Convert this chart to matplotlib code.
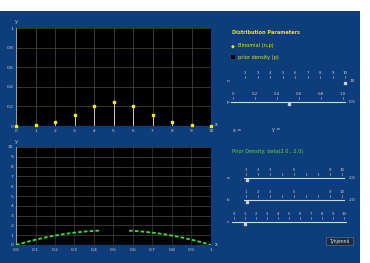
import numpy as np
import matplotlib
matplotlib.use("Agg")
import matplotlib.pyplot as plt
from matplotlib.patches import Rectangle

# ---------------- data ----------------
k_values = [0, 1, 2, 3, 4, 5, 6, 7, 8, 9, 10]
binom_probs = [0.001, 0.010, 0.044, 0.117, 0.205, 0.246, 0.205, 0.117, 0.044, 0.010, 0.001]
top_xticks = [0, 1, 2, 3, 4, 5, 6, 7, 8, 9, 10]
top_yticks = [0, 0.2, 0.4, 0.6, 0.8, 1.0]
top_ylabels = ["0", "0.2", "0.4", "0.6", "0.8", "1"]

p_values = [0.0, 0.05, 0.10, 0.15, 0.20, 0.25, 0.30, 0.35, 0.40, 0.43, 0.45, 0.55,
            0.58, 0.60, 0.65, 0.70, 0.75, 0.80, 0.85, 0.90, 0.95, 1.0]
prior_density = [0.0, 0.29, 0.54, 0.77, 0.96, 1.13, 1.26, 1.37, 1.44, 1.47, np.nan, np.nan,
                 1.46, 1.44, 1.37, 1.26, 1.13, 0.96, 0.77, 0.54, 0.29, 0.0]
bot_xticks = [0.0, 0.1, 0.2, 0.3, 0.4, 0.5, 0.6, 0.7, 0.8, 0.9, 1.0]
bot_xlabels = ["0.0", "0.1", "0.2", "0.3", "0.4", "0.5", "0.6", "0.7", "0.8", "0.9", "1"]
bot_yticks = [0, 1, 2, 3, 4, 5, 6, 7, 8, 9, 10]

n_slider_labels = ["2", "3", "4", "5", "6", "7", "8", "9", "10"]
p_slider_labels = ["0", "0.2", "0.4", "0.6", "0.8", "1.0"]
a_slider_labels = ["1", "2", "3", "", "5", "", "", "9", "10"]
c_slider_labels = ["0", "1", "2", "3", "4", "5", "6", "7", "8", "9", "10"]

# ---------------- figure ----------------
W, H = 370, 263
fig = plt.figure(figsize=(W / 100, H / 100), dpi=100)
fig.patch.set_facecolor("white")

def fx(x):
    return x / W

def fy(y):
    return 1 - y / H

def axrect(x0, y0, x1, y1):
    return [fx(x0), fy(y1), fx(x1) - fx(x0), fy(y0) - fy(y1)]

BLUE = "#0e3d7c"
TXT = "#c8d0dc"
fig.patches.append(Rectangle((0, 0), fx(360), fy(11), transform=fig.transFigure,
                             facecolor=BLUE, edgecolor="none", zorder=-10))

def style_axes(ax):
    ax.set_facecolor("black")
    for s in ax.spines.values():
        s.set_visible(False)
    ax.tick_params(length=0, labelsize=3.2, colors=TXT, pad=2)

# ---- top chart ----
ax1 = fig.add_axes(axrect(16, 28, 211, 126))
ax1.set_zorder(1)
style_axes(ax1)
ax1.set_xlim(0, 10)
ax1.set_ylim(0, 1)
ax1.set_xticks(top_xticks)
ax1.set_xticklabels([str(t) for t in top_xticks])
ax1.set_yticks(top_yticks)
ax1.set_yticklabels(top_ylabels)
for t in top_xticks:
    ax1.axvline(t, color="#505050", lw=0.5, zorder=1)
for t in top_yticks:
    ax1.axhline(t, color="#4a4a2a", lw=0.5, zorder=1)
ax1.axvline(0, color="#9a9a9a", lw=0.8, zorder=2)
ax1.axhline(0, color="#9a9a9a", lw=0.8, zorder=2)
ax1.vlines(k_values, 0, binom_probs, color="#c8c8c8", lw=0.7, zorder=3)
ax1.plot(k_values, binom_probs, linestyle="none", marker="s", markersize=1.7,
         color="#f0f000", zorder=4, clip_on=False)
fig.text(fx(16), fy(22), "y", color=TXT, fontsize=3.5, ha="center", va="center")
fig.text(fx(216), fy(125), "x", color=TXT, fontsize=3.5, ha="center", va="center")

# ---- bottom chart ----
ax2 = fig.add_axes(axrect(16, 147, 211, 245))
ax2.set_zorder(1)
style_axes(ax2)
ax2.set_xlim(0, 1)
ax2.set_ylim(0, 10)
ax2.set_xticks(bot_xticks)
ax2.set_xticklabels(bot_xlabels)
ax2.set_yticks(bot_yticks)
ax2.set_yticklabels([str(t) for t in bot_yticks])
for t in bot_xticks:
    ax2.axvline(t, color="#3c3c3c", lw=0.5, zorder=1)
for t in bot_yticks:
    ax2.axhline(t, color="#4a4a4a", lw=0.5, zorder=1)
ax2.axvline(0, color="#9a9a9a", lw=0.8, zorder=2)
ax2.axhline(0, color="#9a9a9a", lw=0.8, zorder=2)
ax2.plot(p_values, prior_density, color="#38e038", lw=1.3, linestyle=(0, (2, 1.2)), zorder=3)
fig.text(fx(16), fy(141), "y", color=TXT, fontsize=3.5, ha="center", va="center")
fig.text(fx(216), fy(244), "x", color=TXT, fontsize=3.5, ha="center", va="center")

# ---- right panel ----
YEL = "#e8e800"
fig.text(fx(232), fy(33), "Distribution Parameters", color=YEL, fontsize=3.6,
         ha="left", va="center", fontweight="bold")
fig.text(fx(233), fy(46), "\u25C6", color=YEL, fontsize=3.6, ha="center", va="center")
fig.text(fx(238), fy(46), "Binomial (n,p)", color=YEL, fontsize=3.6, ha="left", va="center")
fig.patches.append(Rectangle((fx(231), fy(59)), fx(4), fy(0) - fy(4),
                             transform=fig.transFigure, facecolor="black", edgecolor="none"))
fig.text(fx(238), fy(57), "prior density (p)", color=YEL, fontsize=3.6, ha="left", va="center")

def slider(y, labels, x0, x1, thumb, left, right, track=True):
    n = len(labels)
    xs = np.linspace(x0, x1, n)
    for xv, lab in zip(xs, labels):
        fig.text(fx(xv), fy(y - 8), lab, color=TXT, fontsize=2.8, ha="center", va="center")
        fig.lines.append(plt.Line2D([fx(xv), fx(xv)], [fy(y - 5), fy(y - 3)],
                                    transform=fig.transFigure, color=TXT, lw=0.4))
    if track:
        fig.lines.append(plt.Line2D([fx(x0 - 2), fx(x1 + 2)], [fy(y), fy(y)],
                                    transform=fig.transFigure, color="#d0d8e4", lw=0.8))
    fig.lines.append(plt.Line2D([fx(thumb)], [fy(y + 2)], transform=fig.transFigure,
                                marker="s", markersize=1.5, color=TXT, linestyle="none"))
    fig.text(fx(228), fy(y), left, color=TXT, fontsize=3.2, ha="center", va="center")
    fig.text(fx(352), fy(y), right, color=TXT, fontsize=3.2, ha="center", va="center")

slider(81, n_slider_labels, 245, 345, 345, "n", "10", track=False)
slider(102, p_slider_labels, 233, 343, 289, "p", "0.5")

fig.text(fx(233), fy(130), "x =", color=TXT, fontsize=3.4, ha="left", va="center")
fig.text(fx(272), fy(130), "y =", color=TXT, fontsize=3.4, ha="left", va="center")
fig.text(fx(232), fy(151), "Prior Density: beta(2.0 , 2.0)", color="#6fd81f",
         fontsize=3.6, ha="left", va="center")

slider(178, a_slider_labels, 246, 342, 247, "a", "2.0")
slider(200, a_slider_labels, 246, 342, 247, "b", "2.0")
slider(222, c_slider_labels, 234, 344, 245, "c", "")

fig.patches.append(Rectangle((fx(326), fy(245)), fx(27), fy(0) - fy(8),
                             transform=fig.transFigure, facecolor="#1c2a40",
                             edgecolor="#6a7a90", lw=0.4))
fig.text(fx(339.5), fy(241), "Tyhjenn\u00e4", color="#e0e0e0", fontsize=3.3,
         ha="center", va="center")

fig.savefig("out.png", dpi=100, facecolor=fig.get_facecolor())
